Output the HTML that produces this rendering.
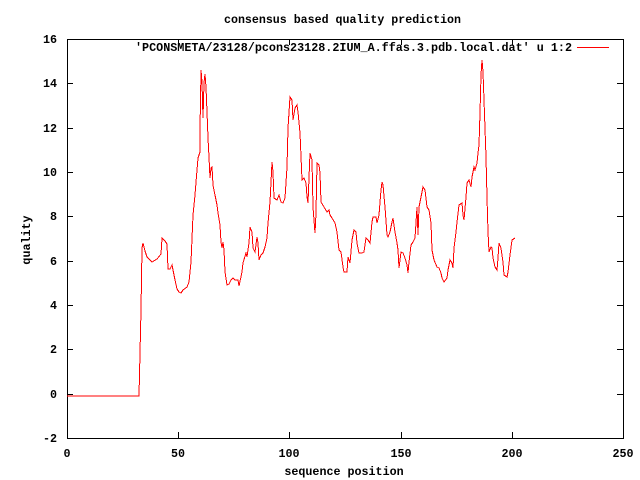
<!DOCTYPE html>
<html><head><meta charset="utf-8"><style>
html,body{margin:0;padding:0;background:#fff;}
svg{display:block;}
text{font-family:"Liberation Mono",monospace;font-size:11.7px;font-weight:bold;fill:#000;}
</style></head><body>
<svg width="640" height="480" viewBox="0 0 640 480" xmlns="http://www.w3.org/2000/svg">
<rect width="640" height="480" fill="#fff"/>
<text x="342.5" y="23" text-anchor="middle" textLength="237" lengthAdjust="spacingAndGlyphs">consensus based quality prediction</text>
<g stroke="#000" stroke-width="1" fill="none" shape-rendering="crispEdges">
<rect x="67.5" y="39.5" width="556" height="399"/>
<path d="M67.5 438v-6M67.5 39v6M178.5 438v-6M178.5 39v6M289.5 438v-6M289.5 39v6M401.5 438v-6M401.5 39v6M512.5 438v-6M512.5 39v6M623.5 438v-6M623.5 39v6"/>
<path d="M67 438.5h6M623 438.5h-6M67 394.5h6M623 394.5h-6M67 349.5h6M623 349.5h-6M67 305.5h6M623 305.5h-6M67 261.5h6M623 261.5h-6M67 216.5h6M623 216.5h-6M67 172.5h6M623 172.5h-6M67 128.5h6M623 128.5h-6M67 83.5h6M623 83.5h-6"/>
</g>
<g text-anchor="end">
<text x="57" y="442">-2</text><text x="57" y="398">0</text><text x="57" y="353">2</text><text x="57" y="309">4</text><text x="57" y="265">6</text><text x="57" y="220">8</text><text x="57" y="176">10</text><text x="57" y="132">12</text><text x="57" y="87">14</text><text x="57" y="43">16</text>
</g>
<g text-anchor="middle">
<text x="67" y="457">0</text><text x="178" y="457">50</text><text x="289" y="457">100</text><text x="401" y="457">150</text><text x="512" y="457">200</text><text x="623" y="457">250</text>
<text x="344" y="475">sequence position</text>
</g>
<text x="30" y="240" text-anchor="middle" transform="rotate(-90 30 240)">quality</text>
<text x="572" y="51" text-anchor="end" textLength="437" lengthAdjust="spacingAndGlyphs">'PCONSMETA/23128/pcons23128.2IUM_A.ffas.3.pdb.local.dat' u 1:2</text>
<rect x="577" y="47" width="32" height="1" fill="#f00" shape-rendering="crispEdges"/>
<polyline fill="none" stroke="#f00" stroke-width="1" shape-rendering="crispEdges" points="67,396 139,396 141,310 142,248 143,243 145,251 147,257 150,260 152,262 157,259 161,254 162,238 165,241 167,244 168,269 170,269 172,265 175,280 177,289 179,292 181,293 183,290 187,287 189,282 191,262 193,215 195,195 197,170 198,158 200,152 200,130 201,70 202,82 203,118 204,83 205,74 206,87 207,112 208,138 209,157 210,178 211,168 212,167 213,185 215,195 217,205 218,213 220,225 221,242 222,248 223,242 224,250 225,272 227,285 229,284 231,280 233,278 235,280 238,280 239,286 242,272 243,263 246,253 247,257 249,243 250,227 252,232 253,248 255,252 257,237 258,243 259,260 261,255 263,253 265,247 267,238 268,223 270,202 272,162 273,172 274,198 277,200 279,195 281,202 283,203 285,198 287,167 288,128 290,97 292,100 293,120 295,108 297,105 298,112 300,133 302,180 304,178 306,183 307,197 308,203 310,153 312,160 313,207 315,233 316,213 317,163 319,165 320,173 321,202 324,207 327,212 329,210 330,215 332,218 335,223 337,232 339,250 341,252 343,267 344,272 347,272 348,257 350,263 352,240 354,230 356,232 357,243 359,253 362,253 364,252 366,238 368,240 370,243 372,222 373,217 376,217 377,223 379,215 381,190 382,182 383,185 385,207 387,235 388,237 390,232 392,222 393,218 395,232 397,243 398,250 399,268 401,252 403,253 405,258 407,265 408,273 409,262 411,245 413,242 415,238 417,207 418,235 419,207 421,197 423,187 425,190 427,207 429,210 431,223 432,250 434,260 437,267 439,268 441,273 442,278 444,282 447,278 448,270 450,260 452,263 453,268 454,248 456,232 457,222 459,205 462,203 463,215 464,220 466,197 467,183 469,180 471,187 472,177 474,167 475,170 477,163 478,153 479,145 480,113 481,75 482,60 483,72 484,100 486,157 487,197 488,232 489,252 491,247 492,248 493,258 495,267 497,270 498,258 499,243 501,248 503,262 504,275 507,277 508,272 510,255 512,240 515,238"/>
</svg>
</body></html>
